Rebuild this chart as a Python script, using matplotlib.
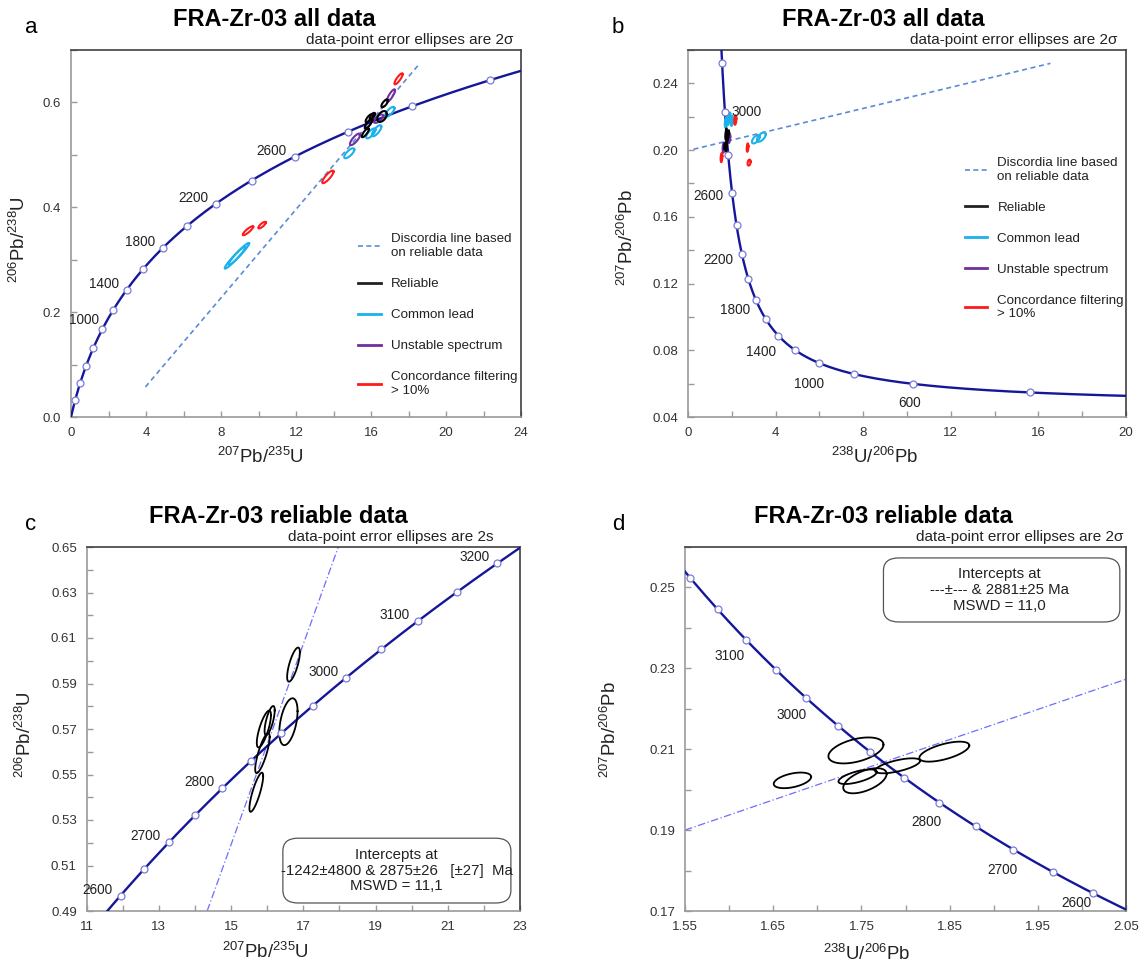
import numpy as np
import matplotlib
matplotlib.use("Agg")
import matplotlib.pyplot as plt
from matplotlib.patches import FancyBboxPatch
from matplotlib.lines import Line2D
from matplotlib.ticker import MultipleLocator, FixedLocator, FormatStrFormatter

plt.rcParams['font.family'] = ['Liberation Sans', 'DejaVu Sans']
plt.rcParams['mathtext.fontset'] = 'custom'
plt.rcParams['mathtext.rm'] = 'Liberation Sans'
plt.rcParams['mathtext.it'] = 'Liberation Sans:italic'
plt.rcParams['mathtext.bf'] = 'Liberation Sans:bold'

# decay constants (per Ma) and 238U/235U
L238 = 1.55125e-4
L235 = 9.8485e-4
U_RATIO = 137.88

# concordia age markers (Ma)
ages_ab = [200, 400, 600, 800, 1000, 1200, 1400, 1600, 1800, 2000, 2200, 2400,
           2600, 2800, 3000, 3200]
ages_cd = [2600, 2650, 2700, 2750, 2800, 2850, 2900, 2950, 3000, 3050, 3100,
           3150, 3200]
labels_a = [1000, 1400, 1800, 2200, 2600]
labels_b = [2600, 2200, 1800, 1400, 1000]
labels_b_right = [3000]
labels_b_below = [600]
labels_c = [2600, 2700, 2800, 3000, 3100, 3200]
labels_d = [3100, 3000, 2800, 2700, 2600]

# error ellipses: (x, 2s_x, y, 2s_y, rho)
# Wetherill 207Pb/235U vs 206Pb/238U
reliable_w = [(16.73, 0.176, 0.5983, 0.0075, 0.72),
              (16.59, 0.252, 0.5732, 0.0103, 0.45),
              (15.91, 0.196, 0.5700, 0.0081, 0.75),
              (16.07, 0.140, 0.5737, 0.0064, 0.70),
              (15.87, 0.200, 0.5594, 0.0088, 0.80),
              (15.70, 0.190, 0.5422, 0.0086, 0.82)]
common_w = [(8.75, 0.55, 0.304, 0.021, 0.96),
            (8.95, 0.55, 0.311, 0.021, 0.96),
            (14.84, 0.27, 0.503, 0.0095, 0.75),
            (15.99, 0.25, 0.541, 0.0095, 0.75),
            (16.30, 0.25, 0.546, 0.0105, 0.75),
            (17.00, 0.25, 0.582, 0.0095, 0.75)]
unstable_w = [(15.15, 0.27, 0.5296, 0.011, 0.8),
              (16.40, 0.25, 0.569, 0.008, 0.65),
              (17.06, 0.22, 0.613, 0.012, 0.85)]
filtered_w = [(9.44, 0.28, 0.3553, 0.0086, 0.88),
              (10.19, 0.20, 0.366, 0.0063, 0.8),
              (13.70, 0.30, 0.458, 0.012, 0.85),
              (17.47, 0.22, 0.645, 0.0105, 0.85)]

# Tera-Wasserburg 238U/206Pb vs 207Pb/206Pb
reliable_tw = [(1.7438, 0.0312, 0.2097, 0.00321, 0.45),
               (1.8440, 0.0283, 0.2094, 0.00247, 0.62),
               (1.7910, 0.0255, 0.2059, 0.00185, 0.65),
               (1.7540, 0.0246, 0.2022, 0.00310, 0.55),
               (1.7457, 0.0217, 0.2032, 0.00180, 0.65),
               (1.6718, 0.0212, 0.2023, 0.00193, 0.45)]
common_tw = [(1.73, 0.05, 0.2165, 0.0030, 0.3),
             (1.83, 0.05, 0.2185, 0.0035, 0.3),
             (1.90, 0.05, 0.2195, 0.0030, 0.3),
             (2.00, 0.05, 0.2175, 0.0030, 0.3),
             (3.10, 0.18, 0.2065, 0.0025, 0.6),
             (3.35, 0.20, 0.2078, 0.0028, 0.6)]
unstable_tw = [(1.63, 0.05, 0.2015, 0.0030, 0.3),
               (1.76, 0.05, 0.2085, 0.0030, 0.3),
               (1.88, 0.05, 0.2072, 0.0030, 0.3)]
filtered_tw = [(2.16, 0.05, 0.2180, 0.0028, 0.3),
               (1.53, 0.04, 0.1955, 0.0027, 0.3),
               (2.72, 0.04, 0.2015, 0.0025, 0.3),
               (2.79, 0.07, 0.1925, 0.0018, 0.3)]

# discordia lines (end points)
disc_a_x = [3.97, 18.52]
disc_a_y = [0.0573, 0.671]
disc_b_x = [0.25, 16.55]
disc_b_y = [0.2005, 0.252]
disc_c_x = [14.34, 17.97]
disc_c_y = [0.49, 0.65]
disc_d_x = [1.55, 2.05]
disc_d_y = [0.190, 0.2273]

legend_labels = ["Discordia line based\non reliable data", "Reliable",
                 "Common lead", "Unstable spectrum",
                 "Concordance filtering\n> 10%"]

NAVY = '#16169a'
MARK_EDGE = '#7a7ad8'
DISC = '#5b8bd8'
DISC2 = '#6c6cff'
CYAN = '#1ab2ea'
PURPLE = '#7030a0'
RED = '#ff1a1a'

W, H = 1145, 967


def wetherill(t):
    t = np.asarray(t, dtype=float)
    return np.exp(L235 * t) - 1, np.exp(L238 * t) - 1


def tera(t):
    x7, y6 = wetherill(t)
    return 1 / y6, x7 / (y6 * U_RATIO)


def fx(x):
    return x / W


def fy(y):
    return 1 - y / H


def ellipses(ax, data, color, lw=1.5):
    t = np.linspace(0, 2 * np.pi, 120)
    for x, sx, y, sy, r in data:
        ax.plot(x + sx * np.cos(t),
                y + sy * (r * np.cos(t) + np.sqrt(1 - r ** 2) * np.sin(t)),
                color=color, lw=lw, zorder=4)


def style(ax):
    for s in ['top', 'right']:
        ax.spines[s].set_color('#404040')
    for s in ['left', 'bottom']:
        ax.spines[s].set_color('#9a9a9a')
    for s in ax.spines.values():
        s.set_linewidth(1.2)
    ax.tick_params(which='both', direction='in', length=4, width=1,
                   color='#9a9a9a', labelsize=9.5, labelcolor='#333333', pad=7)


def concordia(ax, tt, markers, func):
    cx, cy = func(tt)
    ax.plot(cx, cy, color=NAVY, lw=1.7, zorder=3)
    mx, my = func(markers)
    ax.plot(mx, my, 'o', ms=5, mfc='white', mec=MARK_EDGE, mew=0.9, zorder=5)


def age_labels(ax, ages, offsets, func, ha):
    # offsets in pixels (dx right, dy up)
    for a in ages:
        x, y = func(a)
        dx, dy = offsets.get(a, offsets['default'])
        ax.annotate(str(a), (x, y), xytext=(dx * 0.72, dy * 0.72),
                    textcoords='offset points', ha=ha, va='center',
                    fontsize=9.8, color='#222222', zorder=6)


fig = plt.figure(figsize=(W / 100, H / 100), dpi=100)

ax_a = fig.add_axes([fx(71), fy(417), fx(450), 367 / H])
ax_b = fig.add_axes([fx(688), fy(417), fx(438), 367 / H])
ax_c = fig.add_axes([fx(86.5), fy(911), fx(433.5), 364 / H])
ax_d = fig.add_axes([fx(685), fy(911), fx(441), 364 / H])

# ---- panel a
ax = ax_a
concordia(ax, np.linspace(0, 3400, 600), ages_ab, wetherill)
ax.plot(disc_a_x, disc_a_y, color=DISC, lw=1.2, ls=(0, (3, 2.2)), zorder=2)
ellipses(ax, common_w, CYAN)
ellipses(ax, unstable_w, PURPLE)
ellipses(ax, filtered_w, RED)
ellipses(ax, reliable_w, 'black')
age_labels(ax, labels_a, {'default': (-8, 6), 1000: (-3, 9)}, wetherill, 'right')
ax.set_xlim(0, 24)
ax.set_ylim(0, 0.7)
ax.xaxis.set_major_locator(MultipleLocator(4))
ax.xaxis.set_minor_locator(MultipleLocator(2))
ax.yaxis.set_major_locator(MultipleLocator(0.2))
ax.yaxis.set_minor_locator(MultipleLocator(0.1))
ax.xaxis.set_major_formatter(FormatStrFormatter('%d'))
ax.yaxis.set_major_formatter(FormatStrFormatter('%.1f'))

# ---- panel b
ax = ax_b
concordia(ax, np.linspace(300, 3600, 800), ages_ab, tera)
ax.plot(disc_b_x, disc_b_y, color=DISC, lw=1.2, ls=(0, (3, 2.2)), zorder=2)
ellipses(ax, common_tw, CYAN)
ellipses(ax, unstable_tw, PURPLE)
ellipses(ax, filtered_tw, RED)
ellipses(ax, reliable_tw, 'black')
age_labels(ax, labels_b, {'default': (-8, -6), 2600: (-9, -3.3),
                          1800: (-6.3, -10), 1400: (-2, -16),
                          1000: (5, -21)}, tera, 'right')
age_labels(ax, labels_b_right, {'default': (7, 0.5)}, tera, 'left')
age_labels(ax, labels_b_below, {'default': (-2.5, -19)}, tera, 'center')
ax.set_xlim(0, 20)
ax.set_ylim(0.04, 0.26)
ax.xaxis.set_major_locator(MultipleLocator(4))
ax.xaxis.set_minor_locator(MultipleLocator(2))
ax.yaxis.set_major_locator(MultipleLocator(0.04))
ax.yaxis.set_minor_locator(MultipleLocator(0.02))
ax.xaxis.set_major_formatter(FormatStrFormatter('%d'))
ax.yaxis.set_major_formatter(FormatStrFormatter('%.2f'))

# ---- panel c
ax = ax_c
concordia(ax, np.linspace(2500, 3300, 300), ages_cd, wetherill)
ax.plot(disc_c_x, disc_c_y, color=DISC2, lw=0.9, ls=(0, (6, 2, 1, 2)), zorder=2)
ellipses(ax, reliable_w, 'black', lw=1.3)
age_labels(ax, labels_c, {'default': (-8, 6)}, wetherill, 'right')
ax.set_xlim(11, 23)
ax.set_ylim(0.49, 0.65)
ax.xaxis.set_major_locator(FixedLocator([11, 13, 15, 17, 19, 21, 23]))
ax.xaxis.set_minor_locator(MultipleLocator(1))
ax.yaxis.set_major_locator(FixedLocator([0.49, 0.51, 0.53, 0.55, 0.57, 0.59,
                                         0.61, 0.63, 0.65]))
ax.yaxis.set_minor_locator(MultipleLocator(0.01))
ax.xaxis.set_major_formatter(FormatStrFormatter('%d'))
ax.yaxis.set_major_formatter(FormatStrFormatter('%.2f'))
ax.add_patch(FancyBboxPatch((0.453, 0.022), 0.526, 0.178,
                            boxstyle='round,pad=0,rounding_size=0.035',
                            transform=ax.transAxes, fc='white', ec='#555555',
                            lw=0.9, zorder=7))
ax.text(0.715, 0.111,
        "Intercepts at\n-1242\u00b14800 & 2875\u00b126   [\u00b127]  Ma\nMSWD = 11,1",
        transform=ax.transAxes, ha='center', va='center', fontsize=10.8,
        linespacing=1.17, color='#222222', zorder=8)

# ---- panel d
ax = ax_d
concordia(ax, np.linspace(2550, 3300, 300), ages_cd, tera)
ax.plot(disc_d_x, disc_d_y, color=DISC2, lw=0.9, ls=(0, (6, 2, 1, 2)), zorder=2)
ellipses(ax, reliable_tw, 'black', lw=1.3)
age_labels(ax, labels_d, {'default': (-15, -17), 3100: (-16.5, -16),
                          2800: (-13, -19), 2700: (-11, -20),
                          2600: (-17, -10)}, tera, 'center')
ax.set_xlim(1.55, 2.05)
ax.set_ylim(0.17, 0.26)
ax.xaxis.set_major_locator(FixedLocator([1.55, 1.65, 1.75, 1.85, 1.95, 2.05]))
ax.xaxis.set_minor_locator(MultipleLocator(0.05))
ax.yaxis.set_major_locator(FixedLocator([0.17, 0.19, 0.21, 0.23, 0.25]))
ax.yaxis.set_minor_locator(MultipleLocator(0.01))
ax.xaxis.set_major_formatter(FormatStrFormatter('%.2f'))
ax.yaxis.set_major_formatter(FormatStrFormatter('%.2f'))
ax.add_patch(FancyBboxPatch((0.45, 0.794), 0.536, 0.176,
                            boxstyle='round,pad=0,rounding_size=0.035',
                            transform=ax.transAxes, fc='white', ec='#555555',
                            lw=0.9, zorder=7))
ax.text(0.714, 0.881,
        "Intercepts at\n---\u00b1--- & 2881\u00b125 Ma\nMSWD = 11,0",
        transform=ax.transAxes, ha='center', va='center', fontsize=10.8,
        linespacing=1.17, color='#222222', zorder=8)

for ax in (ax_a, ax_b, ax_c, ax_d):
    style(ax)

# legends
handles = [Line2D([], [], color=DISC, lw=1.2, ls=(0, (3, 2))),
           Line2D([], [], color='#222222', lw=2),
           Line2D([], [], color=CYAN, lw=2),
           Line2D([], [], color=PURPLE, lw=2),
           Line2D([], [], color=RED, lw=2)]
for ax, anchor in ((ax_a, (0.638, 0.50)), (ax_b, (0.632, 0.708))):
    ax.legend(handles, legend_labels, loc='upper left', bbox_to_anchor=anchor,
              frameon=False, fontsize=9.6, handlelength=1.7,
              handletextpad=0.75, labelspacing=1.4, borderpad=0,
              borderaxespad=0, labelcolor='#222222')

# titles, subtitles, letters, axis labels
titles = [("FRA-Zr-03 all data", 274.5, 26), ("FRA-Zr-03 all data", 883, 26),
          ("FRA-Zr-03 reliable data", 278.5, 523), ("FRA-Zr-03 reliable data", 883, 523)]
for txt, x, y in titles:
    fig.text(fx(x), fy(y), txt, ha='center', va='baseline', fontsize=17,
             fontweight='bold')

subs = [("data-point error ellipses are 2\u03c3", 513, 44),
        ("data-point error ellipses are 2\u03c3", 1117.5, 44),
        ("data-point error ellipses are 2s", 494, 541),
        ("data-point error ellipses are 2\u03c3", 1123.5, 541)]
for txt, x, y in subs:
    fig.text(fx(x), fy(y), txt, ha='right', va='baseline', fontsize=11,
             color='#222222')

for txt, x, y in (("a", 25.5, 33), ("b", 612, 33), ("c", 24.7, 530), ("d", 612, 530)):
    fig.text(fx(x), fy(y), txt, ha='left', va='baseline', fontsize=16)

lab_w_x = r'$^{207}$Pb/$^{235}$U'
lab_w_y = r'$^{206}$Pb/$^{238}$U'
lab_t_x = r'$^{238}$U/$^{206}$Pb'
lab_t_y = r'$^{207}$Pb/$^{206}$Pb'
for txt, x, y in ((lab_w_x, 260, 463), (lab_t_x, 875, 463),
                  (lab_w_x, 265.5, 958), (lab_t_x, 867, 960)):
    fig.text(fx(x), fy(y), txt, ha='center', va='baseline', fontsize=13.4,
             color='#222222')
for txt, x, y in ((lab_w_y, 19, 240), (lab_t_y, 627, 237.5),
                  (lab_w_y, 24.5, 735), (lab_t_y, 610, 730)):
    fig.text(fx(x), fy(y), txt, ha='center', va='center', fontsize=13.4,
             rotation=90, color='#222222')

fig.savefig('out.png', dpi=100)
